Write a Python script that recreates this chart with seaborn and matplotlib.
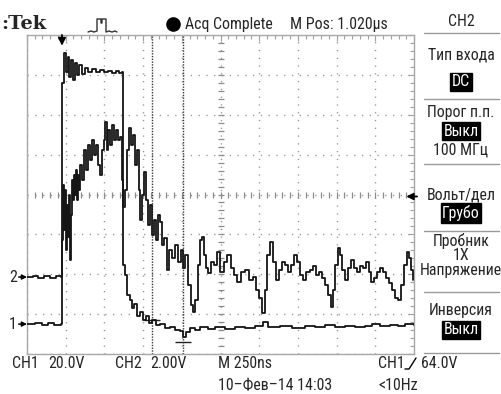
import numpy as np
import pandas as pd
import matplotlib
matplotlib.use("Agg")
import matplotlib.pyplot as plt
from matplotlib import font_manager
from matplotlib.font_manager import FontProperties
from matplotlib.textpath import TextPath
from matplotlib.lines import Line2D
import seaborn as sns

# ---- captured samples -------------------------------------------------
# CH1: time (ns) and voltage (V)
ch1_t = [0, 52, 97, 136, 174, 220, 226, 239, 252, 265, 271, 284, 297, 310, 323,
         336, 355, 375, 394, 420, 446, 472, 497, 523, 549, 575, 594, 614, 620,
         633, 646, 665, 678, 691, 711, 730, 749, 769, 788, 808, 833, 859, 891,
         924, 956, 988, 1008, 1027, 1053, 1085, 1118, 1169, 1214, 1279, 1344,
         1408, 1473, 1525, 1557, 1634, 1712, 1796, 1860, 1925, 1990, 2054, 2119,
         2184, 2229, 2280, 2345, 2397, 2442, 2500]
ch1_v = [0, 0.5, -0.5, 0.5, -0.5, 0, 120.7, 135.8, 126.3, 133.8, 123.7, 132.3,
         122.2, 130.8, 124.7, 129.8, 125.3, 128.3, 126.3, 127.8, 126.3, 127.3,
         126.3, 126.8, 125.8, 126.8, 125.8, 126.3, 29.6, 24.5, 14.5, 12.0, 8.0,
         10.0, 4.0, 6.0, 2.0, 4.0, 0.5, 2.0, -0.5, 0, -2.0, -1.5, -3.0, -3.5,
         -6.5, -4.0, -2.0, -3.0, -1.5, -2.5, -1.5, -2.5, -1.5, -2.0, -1.0, 1.0,
         -1.5, -1.0, -2.0, -1.0, -1.5, -0.5, -1.5, -1.0, -1.5, -1.0, 0, -1.0,
         -0.5, -1.0, 0, -0.5]

# CH2: time (ns) and voltage (V)
ch2_t = [0, 39, 71, 110, 149, 187, 220, 226, 233, 239, 245, 252, 258, 265, 271,
         278, 284, 291, 297, 304, 310, 317, 323, 329, 336, 342, 355, 368, 381,
         394, 407, 420, 433, 446, 459, 472, 484, 497, 504, 517, 523, 536, 549,
         562, 575, 588, 601, 614, 620, 633, 646, 659, 672, 685, 698, 711, 724,
         730, 743, 756, 769, 782, 795, 808, 820, 833, 846, 859, 872, 885, 904,
         917, 937, 956, 975, 995, 1008, 1021, 1040, 1059, 1072, 1085, 1105,
         1118, 1130, 1143, 1156, 1169, 1189, 1208, 1227, 1247, 1273, 1292, 1318,
         1337, 1357, 1382, 1408, 1434, 1460, 1479, 1499, 1518, 1537, 1550, 1570,
         1589, 1609, 1628, 1647, 1667, 1686, 1705, 1725, 1744, 1764, 1783, 1802,
         1828, 1848, 1867, 1887, 1906, 1925, 1945, 1964, 1977, 1990, 2009, 2022,
         2035, 2054, 2074, 2093, 2112, 2132, 2151, 2170, 2190, 2209, 2222, 2242,
         2261, 2280, 2300, 2319, 2338, 2358, 2377, 2397, 2416, 2435, 2455, 2468,
         2481, 2494]
ch2_v = [0, 0.05, -0.05, 0.05, -0.05, 0.05, 0, 1.85, 4.61, 2.35, 4.36, 1.35,
         3.61, 2.0, 4.11, 0.85, 3.11, 4.86, 3.86, 5.11, 4.11, 5.36, 3.86, 5.11,
         4.36, 5.61, 4.86, 6.36, 5.36, 6.61, 5.86, 6.86, 6.11, 6.61, 5.61, 5.11,
         6.36, 6.86, 7.77, 6.36, 7.36, 6.61, 7.62, 6.86, 7.36, 6.86, 7.01, 4.86,
         3.51, 4.36, 6.36, 7.47, 6.61, 7.11, 5.61, 6.36, 4.36, 2.86, 4.11, 5.26,
         3.86, 2.61, 3.61, 2.10, 2.86, 1.85, 3.11, 2.76, 1.60, 1.95, 0.35, 1.35,
         0.95, 1.60, 0.75, 1.35, 0.45, 1.10, -0.40, -1.40, -1.75, -1.15, 0.60,
         1.85, 2.00, 1.10, 0.45, 0.20, 0.75, 0.60, 1.25, 0.25, 0.75, 1.10, 0.45,
         0.10, -0.25, 0.25, 0.35, -0.15, 0, -0.65, -1.05, -1.80, -0.65, 1.10,
         1.75, 0.75, -0.15, 0.35, 0.75, 0.60, 0.25, 0.60, 1.10, 0.75, 0.10,
         -0.15, 0.25, 0.35, 0.55, 0.10, 0.25, -0.05, -0.40, -0.90, -1.50, -0.65,
         0.60, 1.45, 1.10, 0.35, -0.15, 0.45, 0.85, 0.45, 0.25, 0.55, 0.45, 0.75,
         0.25, -0.25, -0.05, 0.25, 0.45, 0.25, -0.05, -0.30, -0.65, -1.05, -1.15,
         -0.40, 0.60, 1.25, 0.95, 0.35, -0.15]

# ---- scope settings ---------------------------------------------------
ch1_scale = 20.0        # V/div
ch2_scale = 2.0         # V/div
time_per_div = 250.0    # ns/div
trigger_level = 64.0    # V (CH1)
trigger_time = 226.0    # ns
cursor_times = [808.0, 1008.0]
cursor_levels = [2.0, -9.0]   # CH1 volts at the cursors

# screen layout (divisions from the bottom of the graticule)
CH1_POS = 0.75
CH2_POS = 1.93
N_HDIV, N_VDIV = 10, 8

W, H = 501, 394


def fx(x):
    return x / W


def fy(y):
    return 1 - y / H


def pick_narrow_font():
    """Return the path of a narrow sans face if one is installed."""
    prefer = ["Liberation Sans Narrow", "Roboto Condensed", "Noto Sans",
              "Open Sans", "DejaVu Sans", "Open Sans Condensed"]
    found = {}
    for f in font_manager.fontManager.ttflist:
        fn = f.fname.lower()
        if not ("narrow" in fn or "condensed" in fn):
            continue
        if "semi" in fn or "extra" in fn or "ultra" in fn:
            continue
        if f.style != "normal" or str(f.weight).lower() not in ("400", "normal", "regular", "book"):
            continue
        found.setdefault(f.name, f.fname)
    for name in prefer:
        if name in found:
            return found[name]
    return None


narrow_path = pick_narrow_font()
if narrow_path:
    base_fp = FontProperties(fname=narrow_path)
else:
    base_fp = FontProperties(family="Liberation Sans")

# size the UI text so that "Acq Complete" spans about 87 px
probe = base_fp.copy()
probe.set_size(10)
w_pt = TextPath((0, 0), "Acq Complete", prop=probe).get_extents().width
UI_SIZE = min(12.5, 10 * (87 * 0.72) / w_pt)


def ui(size=None):
    fp = base_fp.copy()
    fp.set_size(size or UI_SIZE)
    return fp


sns.set_style("white")
plt.rcParams["font.family"] = ["Liberation Sans", "DejaVu Sans"]
plt.rcParams["lines.scale_dashes"] = False

fig = plt.figure(figsize=(W / 100, H / 100), dpi=100)
fig.patch.set_facecolor("white")
ax = fig.add_axes([fx(27), fy(354), fx(414) - fx(27), fy(35) - fy(354)])
ax.set_facecolor("white")

t_end = N_HDIV * time_per_div
ax.set_xlim(0, t_end)
ax.set_ylim(0, N_VDIV)

# graticule
ax.set_xticks(np.arange(0, t_end + 1, time_per_div))
ax.set_yticks(np.arange(0, N_VDIV + 0.01, 1))
ax.set_xticks(np.arange(0, t_end + 1, time_per_div / 5), minor=True)
ax.set_yticks(np.arange(0, N_VDIV + 0.01, 0.2), minor=True)
ax.tick_params(which="both", direction="in", top=True, right=True,
               labelbottom=False, labelleft=False, color="#a0a0a0", width=0.8)
ax.tick_params(which="major", length=4)
ax.tick_params(which="minor", length=3)
ax.grid(which="major", color="#969696", linewidth=1.0, linestyle=(0, (0.9, 4.7)))
for s in ax.spines.values():
    s.set_color("#a8a8a8")
    s.set_linewidth(1.0)

# centre cross ticks
cx = np.arange(0, t_end + 1, time_per_div / 5)
ax.plot(cx, np.full_like(cx, N_VDIV / 2), ls="none", marker="|", ms=4,
        mew=0.9, color="#8c8c8c", zorder=1)
cy = np.arange(0, N_VDIV + 0.01, 0.2)
ax.plot(np.full_like(cy, t_end / 2), cy, ls="none", marker="_", ms=4,
        mew=0.9, color="#8c8c8c", zorder=1)

# cursors
for ct, cl in zip(cursor_times, cursor_levels):
    ax.axvline(ct, color="#3a3a3a", linewidth=1.0, linestyle=(0, (1.0, 1.0)), zorder=2)
    ax.plot([ct], [CH1_POS + cl / ch1_scale], marker="_", ms=11, mew=1.0,
            color="#222222", zorder=3)

# traces
df = pd.concat([
    pd.DataFrame({"t": ch1_t, "div": CH1_POS + np.array(ch1_v) / ch1_scale, "ch": "CH1"}),
    pd.DataFrame({"t": ch2_t, "div": CH2_POS + np.array(ch2_v) / ch2_scale, "ch": "CH2"}),
], ignore_index=True)
sns.lineplot(data=df, x="t", y="div", hue="ch", units="ch",
             palette={"CH1": "#151515", "CH2": "#151515"},
             estimator=None, sort=False, legend=False, ax=ax,
             drawstyle="steps-post", linewidth=1.3, zorder=4)
ax.set_xlabel("")
ax.set_ylabel("")

# trigger position marker (top) and trigger level marker (right)
ax.annotate("", xy=(trigger_time, N_VDIV - 0.27), xytext=(trigger_time, N_VDIV),
            arrowprops=dict(arrowstyle="-|>", color="black", lw=1.3,
                            mutation_scale=11, shrinkA=0, shrinkB=0),
            annotation_clip=False, zorder=5)
trig_div = CH1_POS + trigger_level / ch1_scale
ax.annotate("", xy=(t_end - 50, trig_div), xytext=(t_end + 20, trig_div),
            arrowprops=dict(arrowstyle="-|>", color="black", lw=1.3,
                            mutation_scale=10, shrinkA=0, shrinkB=0),
            annotation_clip=False, zorder=5)

# channel ground markers
for label, pos in (("1", CH1_POS), ("2", CH2_POS)):
    ax.annotate("", xy=(0, pos), xytext=(-6, 0), textcoords="offset points",
                xycoords="data",
                arrowprops=dict(arrowstyle="-|>", color="black", lw=1.1,
                                mutation_scale=7, shrinkA=0, shrinkB=0),
                annotation_clip=False)
    ax.annotate(label, xy=(0, pos), xytext=(-10, 0), textcoords="offset points",
                ha="center", va="center", fontproperties=ui(), annotation_clip=False)

# ---- header -----------------------------------------------------------
fig.text(fx(1), fy(24), ":Tek", fontsize=14, fontweight="bold",
         family="DejaVu Serif", va="center", ha="left")
icon = [(88, 32), (91, 31), (94, 32), (97, 31), (97, 19), (101, 19), (101, 23),
        (102, 23), (102, 19), (106, 19), (106, 32), (109, 31), (112, 32),
        (115, 31), (117, 32)]
fig.add_artist(Line2D([fx(p[0]) for p in icon], [fy(p[1]) for p in icon],
                      transform=fig.transFigure, color="#333333", lw=1.0))
fig.add_artist(Line2D([fx(173)], [fy(24)], transform=fig.transFigure,
                      marker="o", ms=9.5, color="black", ls="none"))
fig.text(fx(185), fy(24), "Acq Complete", fontproperties=ui(), va="center", ha="left")
fig.text(fx(290), fy(24), "M Pos: 1.020µs", fontproperties=ui(), va="center", ha="left")

# ---- side menu --------------------------------------------------------
PX = 461
fig.text(fx(PX), fy(22), "CH2", fontproperties=ui(), ha="center", va="center")
for yy in (33, 99, 164, 231, 292, 353):
    fig.add_artist(Line2D([fx(424), fx(499)], [fy(yy), fy(yy)],
                          transform=fig.transFigure, color="#9a9a9a", lw=1.0))

menu_plain = [("Тип входа", 55), ("Порог п.п.", 113), ("100 МГц", 150),
              ("Вольт/дел", 195), ("Пробник", 241), ("1X", 255),
              ("Напряжение", 270), ("Инверсия", 310)]
menu_boxed = [("DC", 82), ("Выкл", 131), ("Грубо", 213), ("Выкл", 330)]
for txt, yy in menu_plain:
    fig.text(fx(PX), fy(yy), txt, fontproperties=ui(), ha="center", va="center")
for txt, yy in menu_boxed:
    fig.text(fx(PX), fy(yy), txt, fontproperties=ui(), ha="center", va="center",
             color="white",
             bbox=dict(boxstyle="square,pad=0.1", facecolor="black", edgecolor="black"))

# ---- footer -----------------------------------------------------------
fig.text(fx(12), fy(364), "CH1", fontproperties=ui(), va="center", ha="left")
fig.text(fx(48), fy(364), "20.0V", fontproperties=ui(), va="center", ha="left")
fig.text(fx(115), fy(364), "CH2", fontproperties=ui(), va="center", ha="left")
fig.text(fx(150), fy(364), "2.00V", fontproperties=ui(), va="center", ha="left")
fig.text(fx(218), fy(364), "M 250ns", fontproperties=ui(), va="center", ha="left")
fig.text(fx(378), fy(364), "CH1", fontproperties=ui(), va="center", ha="left")
edge = [(405, 369), (409, 369), (416, 358)]
fig.add_artist(Line2D([fx(p[0]) for p in edge], [fy(p[1]) for p in edge],
                      transform=fig.transFigure, color="black", lw=1.0))
fig.text(fx(421), fy(364), "64.0V", fontproperties=ui(), va="center", ha="left")
fig.text(fx(218), fy(386), "10–Фев–14 14:03", fontproperties=ui(), va="center", ha="left")
fig.text(fx(378), fy(386), "<10Hz", fontproperties=ui(), va="center", ha="left")

fig.savefig("out.png", dpi=100, facecolor="white")
